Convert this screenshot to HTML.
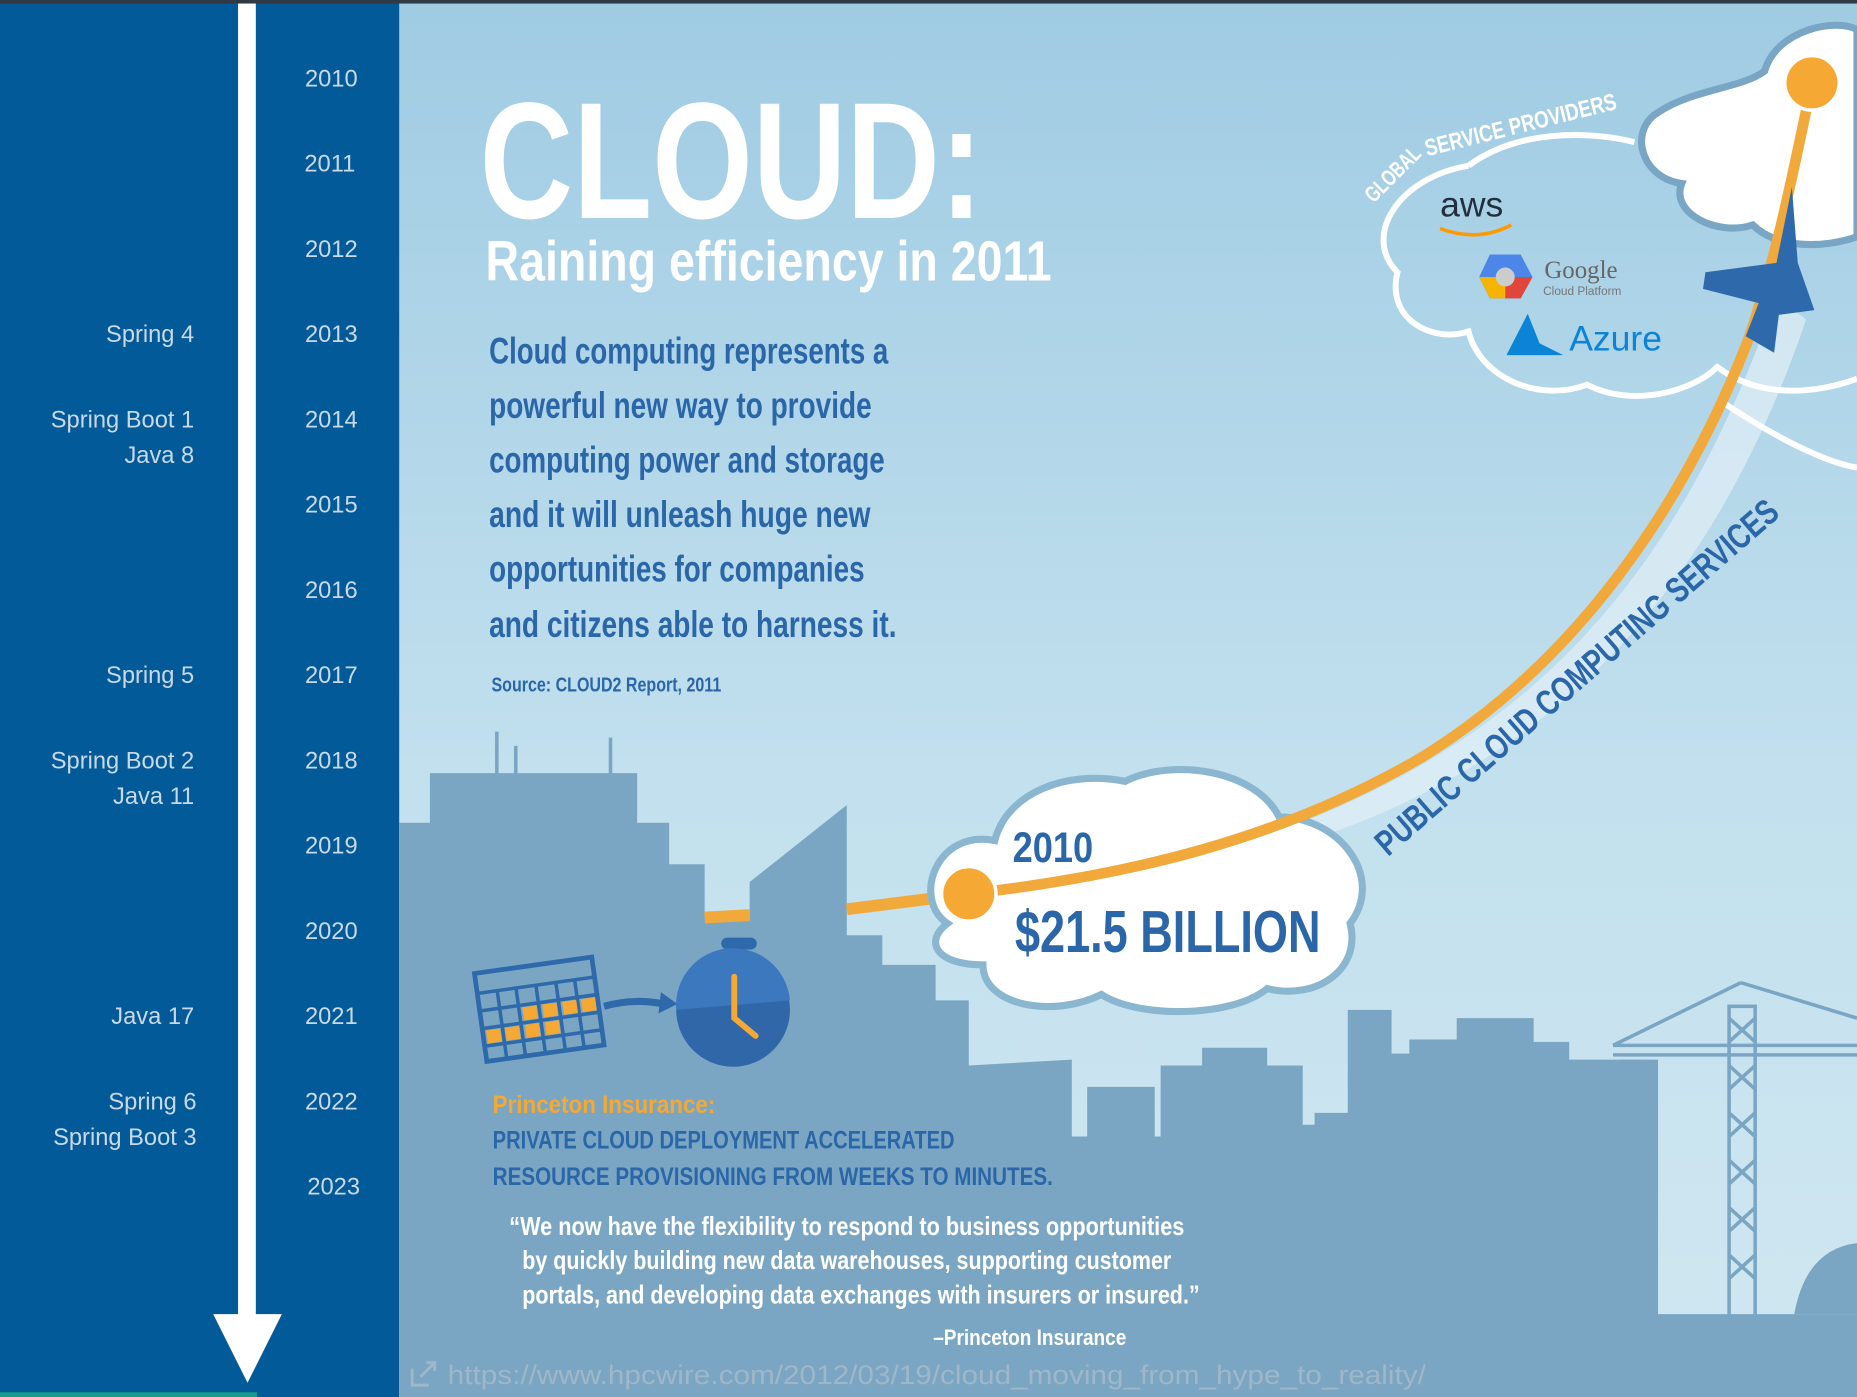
<!DOCTYPE html>
<html><head><meta charset="utf-8"><style>
html,body{margin:0;padding:0;width:1857px;height:1397px;overflow:hidden;background:#0a5896}
svg{display:block}
.n{font-family:"Liberation Sans Narrow","Liberation Sans",sans-serif;font-weight:bold}
.s{font-family:"Liberation Sans",sans-serif}
</style></head><body>
<svg width="1857" height="1397" viewBox="0 0 1568 1180" preserveAspectRatio="none">
<defs>
<linearGradient id="sky" x1="0" y1="0" x2="0" y2="1">
<stop offset="0" stop-color="#9fcbe3"/><stop offset="0.55" stop-color="#c2e0ee"/><stop offset="1" stop-color="#d0e7f1"/>
</linearGradient>
</defs>
<rect x="337" y="0" width="1231" height="1180" fill="url(#sky)"/>
<rect x="0" y="0" width="1568" height="3" fill="#2f3a44"/>
<rect x="0" y="3" width="337" height="1177" fill="#035a99"/>
<rect x="201" y="3" width="15" height="1110" fill="#fff"/>
<polygon points="180,1110 238,1110 209,1168" fill="#fff"/>
<rect x="0" y="1176" width="217" height="4" fill="#159a8c"/>
<g class="s" font-size="20" fill="#c9d9e8" text-anchor="end">
<text x="302" y="73">2010</text><text x="300" y="145">2011</text><text x="302" y="217">2012</text>
<text x="302" y="289">2013</text><text x="302" y="361">2014</text><text x="302" y="433">2015</text>
<text x="302" y="505">2016</text><text x="302" y="577">2017</text><text x="302" y="649">2018</text>
<text x="302" y="721">2019</text><text x="302" y="793">2020</text><text x="302" y="865">2021</text>
<text x="302" y="937">2022</text><text x="304" y="1009">2023</text>
</g>
<g class="s" font-size="20" fill="#c9d9e8" text-anchor="end">
<text x="164" y="289">Spring 4</text>
<text x="164" y="361">Spring Boot 1</text><text x="164" y="391">Java 8</text>
<text x="164" y="577">Spring 5</text>
<text x="164" y="649">Spring Boot 2</text><text x="164" y="679">Java 11</text>
<text x="164" y="865">Java 17</text>
<text x="166" y="937">Spring 6</text><text x="166" y="967">Spring Boot 3</text>
</g>
<path d="M1085,700 C1300,620 1420,480 1500,250 L1525,270 C1450,490 1320,640 1105,710 Z" fill="#e3f0f7" opacity="0.7"/>
<g fill="#7aa6c3">
<path d="M337,695 L363,695 L363,653 L538,653 L538,695 L565,695 L565,730 L595,730 L595,775 L633,775 L633,745 L715,680 L715,790 L745,790 L745,815 L790,815 L790,845 L818,845 L818,900 L905,895 L905,960 L918,960 L918,918 L975,918 L975,960 L980,960 L980,900 L1015,900 L1015,885 L1070,885 L1070,900 L1100,900 L1100,950 L1110,950 L1110,940 L1138,940 L1138,853 L1175,853 L1175,890 L1190,890 L1190,878 L1230,878 L1230,860 L1295,860 L1295,880 L1325,880 L1325,895 L1400,895 L1400,1110 L1568,1110 L1568,1180 L337,1180 Z"/>
<path d="M1515,1110 Q1525,1055 1568,1050 L1568,1110 Z"/>
<rect x="418" y="618" width="3" height="40"/><rect x="434" y="630" width="3" height="28"/><rect x="514" y="623" width="3" height="35"/>
<rect x="1368" y="895" width="22" height="15"/>
</g>
<g stroke="#7aa6c3" stroke-width="3" fill="none">
<rect x="1460" y="850" width="22" height="262"/>
<path d="M1460,860 L1482,880 M1482,860 L1460,880 M1460,900 L1482,920 M1482,900 L1460,920 M1460,940 L1482,960 M1482,940 L1460,960 M1460,980 L1482,1000 M1482,980 L1460,1000 M1460,1020 L1482,1040 M1482,1020 L1460,1040 M1460,1060 L1482,1080 M1482,1060 L1460,1080"/>
<path d="M1362,883 L1568,883 M1362,891 L1568,891 M1470,830 L1362,883 M1470,830 L1568,860"/>
</g>
<path d="M595,775 L633,773 M715,768 L818,755" stroke="#f2a93b" stroke-width="10" fill="none"/>
<path d="M800,780 C770,760 790,700 840,710 C850,670 900,650 950,660 C990,640 1060,650 1080,690 C1130,690 1170,740 1140,780 C1150,820 1110,845 1070,835 C1040,860 960,860 930,840 C890,860 830,850 830,815 C790,815 780,795 800,780 Z" fill="#fff" stroke="#8ab6d0" stroke-width="6"/>
<path d="M1240,140 C1180,150 1150,200 1180,230 C1170,270 1210,290 1240,280 C1250,320 1300,340 1340,325 C1380,345 1430,330 1450,310 C1490,340 1540,330 1568,320" fill="none" stroke="#fff" stroke-width="5"/>
<path d="M1240,140 C1280,110 1340,110 1380,120" fill="none" stroke="#fff" stroke-width="5"/>
<path d="M1455,340 C1500,370 1540,390 1568,395" fill="none" stroke="#fff" stroke-width="5"/>
<path d="M1400,95 C1430,75 1470,75 1490,60 C1500,25 1550,15 1568,25 L1568,200 C1540,210 1500,210 1480,190 C1450,200 1410,180 1420,155 C1385,150 1375,110 1400,95 Z" fill="#fff" stroke="#79a6c4" stroke-width="6"/>
<path d="M818,755 C950,740 1080,710 1200,640 C1330,560 1420,430 1475,290 C1500,220 1515,140 1530,70" fill="none" stroke="#f2a93b" stroke-width="9"/>
<circle cx="818" cy="755" r="23" fill="#f5a833" stroke="#fff" stroke-width="3"/>
<circle cx="1530" cy="70" r="23" fill="#f5a833" stroke="#fff" stroke-width="3"/>
<path d="M1513,158 L1500,222 L1440,230 L1438,244 L1485,256 L1474,284 L1498,298 L1502,266 L1532,262 L1518,222 Z" fill="#2e6aab"/>
<text x="405" y="184" class="n" font-size="140" fill="#fff" textLength="425" lengthAdjust="spacingAndGlyphs">CLOUD:</text>
<text x="410" y="237" class="n" font-size="48" fill="#fff" textLength="478" lengthAdjust="spacingAndGlyphs">Raining efficiency in 2011</text>
<g class="n" font-size="31" fill="#2a66a8">
<text x="413" y="307" textLength="337" lengthAdjust="spacingAndGlyphs">Cloud computing represents a</text>
<text x="413" y="353" textLength="323" lengthAdjust="spacingAndGlyphs">powerful new way to provide</text>
<text x="413" y="399" textLength="334" lengthAdjust="spacingAndGlyphs">computing power and storage</text>
<text x="413" y="445" textLength="322" lengthAdjust="spacingAndGlyphs">and it will unleash huge new</text>
<text x="413" y="491" textLength="317" lengthAdjust="spacingAndGlyphs">opportunities for companies</text>
<text x="413" y="538" textLength="344" lengthAdjust="spacingAndGlyphs">and citizens able to harness it.</text>
</g>
<text x="415" y="584" class="n" font-size="17" fill="#2a66a8" textLength="194" lengthAdjust="spacingAndGlyphs">Source: CLOUD2 Report, 2011</text>
<text x="855" y="728" class="n" font-size="36" fill="#2a66a8" textLength="68" lengthAdjust="spacingAndGlyphs">2010</text>
<text x="857" y="804" class="n" font-size="50" fill="#2a66a8" textLength="258" lengthAdjust="spacingAndGlyphs">$21.5 BILLION</text>
<text transform="translate(1172,724) rotate(-41)" class="n" font-size="30" fill="#2a66a8" textLength="440" lengthAdjust="spacingAndGlyphs">PUBLIC CLOUD COMPUTING SERVICES</text>
<text transform="translate(1160,172) rotate(-45)" class="n" font-size="19" fill="#fff" textLength="58" lengthAdjust="spacingAndGlyphs">GLOBAL</text>
<text transform="translate(1205,132) rotate(-14)" class="n" font-size="20" fill="#fff" textLength="166" lengthAdjust="spacingAndGlyphs">SERVICE PROVIDERS</text>
<text x="1216" y="183" class="s" font-size="30" fill="#232f3e">aws</text>
<path d="M1216,193 Q1248,205 1276,190" stroke="#f90" stroke-width="3" fill="none"/>
<polygon points="1258,215 1284,215 1294,234 1284,252 1258,252 1249,234" fill="#4c86e8"/>
<polygon points="1271,234 1294,234 1284,252 1271,252" fill="#e0463a"/>
<polygon points="1249,234 1271,234 1271,252 1258,252" fill="#f5b400"/>
<circle cx="1271" cy="234" r="8" fill="#ccc"/>
<text x="1304" y="235" font-family="Liberation Serif,serif" font-size="21" fill="#666">Google</text>
<text x="1303" y="249" class="s" font-size="10" fill="#777">Cloud Platform</text>
<polygon points="1290,265 1272,300 1320,300 1300,290" fill="#0b84d8"/>
<text x="1325" y="296" class="s" font-size="30" fill="#0b84d8">Azure</text>
<g transform="rotate(-8 455 850)">
<rect x="405" y="815" width="100" height="75" fill="none" stroke="#2e6aab" stroke-width="4"/>
<path d="M405,832 H505 M405,847 H505 M405,862 H505 M405,877 H505 M422,832 V890 M438,832 V890 M455,832 V890 M472,832 V890 M488,832 V890" stroke="#2e6aab" stroke-width="3"/>
<rect x="441" y="849" width="12" height="11" fill="#f5a833"/><rect x="458" y="849" width="12" height="11" fill="#f5a833"/><rect x="475" y="849" width="12" height="11" fill="#f5a833"/><rect x="491" y="849" width="12" height="11" fill="#f5a833"/>
<rect x="408" y="864" width="12" height="11" fill="#f5a833"/><rect x="424" y="864" width="12" height="11" fill="#f5a833"/><rect x="441" y="864" width="12" height="11" fill="#f5a833"/><rect x="458" y="864" width="12" height="11" fill="#f5a833"/>
</g>
<path d="M510,850 Q535,843 560,848" stroke="#2e6aab" stroke-width="6" fill="none"/>
<polygon points="558,838 572,848 556,856" fill="#2e6aab"/>
<g>
<rect x="609" y="792" width="30" height="10" rx="5" fill="#2e6aab"/><rect x="620" y="798" width="8" height="12" fill="#2e6aab"/>
<circle cx="619" cy="853" r="48" fill="#2f67a8"/>
<path d="M571,853 A48,48 0 0 1 667,845 Z" fill="#3b78bd"/>
<path d="M620,825 L620,860 L638,875" stroke="#f5a833" stroke-width="5" fill="none" stroke-linecap="round"/>
</g>
<text x="416" y="940" class="n" font-size="21" fill="#f5a833" textLength="188" lengthAdjust="spacingAndGlyphs">Princeton Insurance:</text>
<text x="416" y="970" class="n" font-size="21" fill="#2a66a8" textLength="390" lengthAdjust="spacingAndGlyphs">PRIVATE CLOUD DEPLOYMENT ACCELERATED</text>
<text x="416" y="1001" class="n" font-size="21" fill="#2a66a8" textLength="473" lengthAdjust="spacingAndGlyphs">RESOURCE PROVISIONING FROM WEEKS TO MINUTES.</text>
<g class="n" font-size="22" fill="#fff">
<text x="430" y="1043" textLength="570" lengthAdjust="spacingAndGlyphs">“We now have the flexibility to respond to business opportunities</text>
<text x="441" y="1072" textLength="548" lengthAdjust="spacingAndGlyphs">by quickly building new data warehouses, supporting customer</text>
<text x="441" y="1101" textLength="572" lengthAdjust="spacingAndGlyphs">portals, and developing data exchanges with insurers or insured.”</text>
<text x="788" y="1136" font-size="19" textLength="163" lengthAdjust="spacingAndGlyphs">–Princeton Insurance</text>
</g>
<g>
<path d="M348,1156 V1170 H362 M355,1163 L367,1151 M360,1151 H367 V1158" stroke="#9fb7c9" stroke-width="2.5" fill="none"/>
<text x="378" y="1169" class="s" font-size="23" fill="#9fb7c9" textLength="826" lengthAdjust="spacingAndGlyphs">https://www.hpcwire.com/2012/03/19/cloud_moving_from_hype_to_reality/</text>
</g>
</svg>
</body></html>
